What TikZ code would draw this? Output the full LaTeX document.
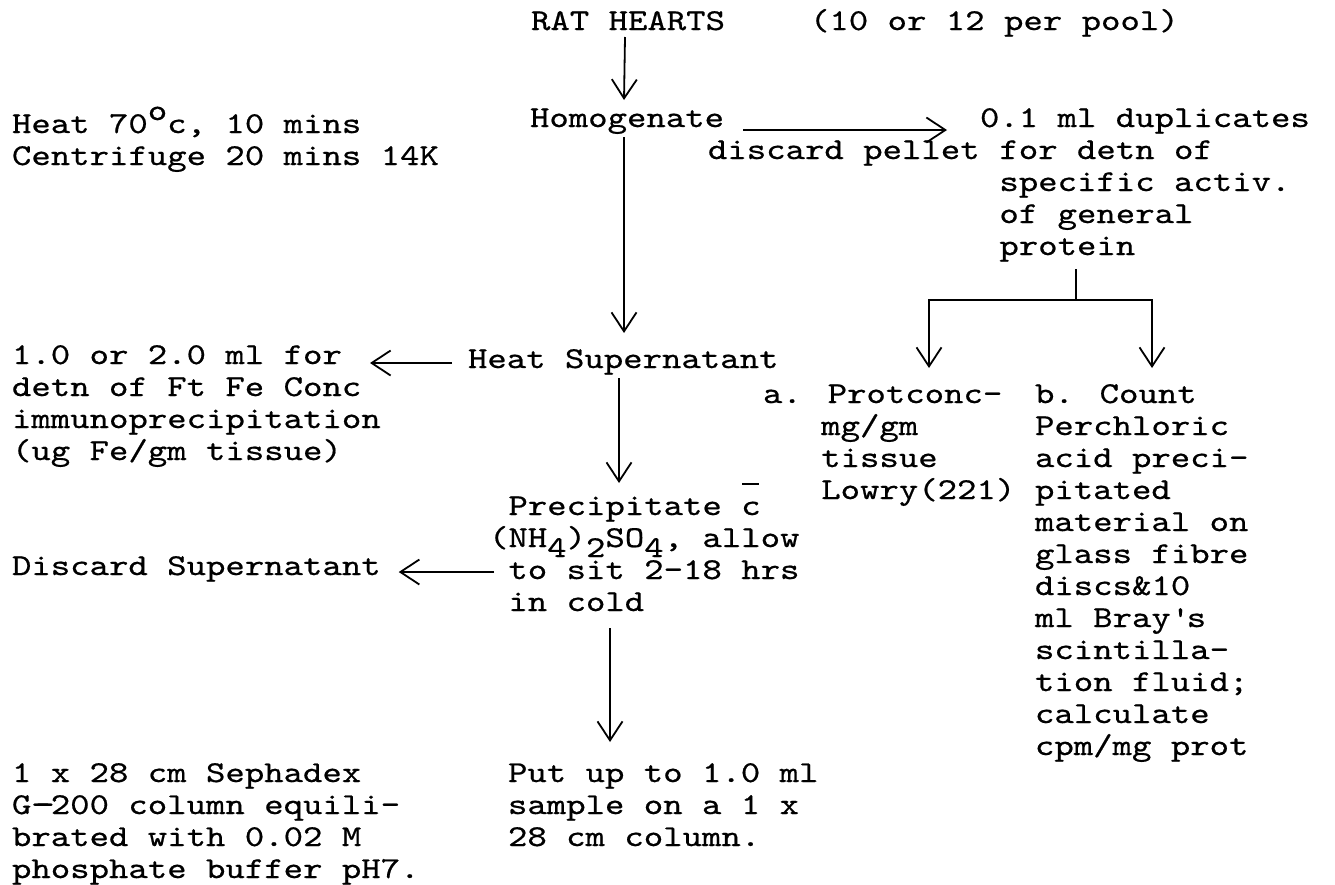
\documentclass[tikz,border=0pt]{standalone}
\usepackage{fontspec}
\newfontfamily\tw[FakeStretch=1.22,FakeBold=0.6]{lmmono10-regular.otf}
\usetikzlibrary{arrows.meta,calc}
\newcommand\lines[1]{\begin{tabular}[t]{@{}l@{}}#1\end{tabular}}
\newcommand\ix{\phantom{x}}
\newcommand\sub[1]{\raisebox{-10pt}[0pt][0pt]{#1}}
\newcommand\cbar{\rlap{\kern1pt\rule[30pt]{17pt}{1.8pt}}c}
\newcommand\dbl{\rlap{-}\kern0.12em-\kern-0.12em}
\begin{document}
\begin{tikzpicture}[x=1pt,y=-1pt,
  every node/.style={inner sep=0pt,outer sep=0pt,anchor=base west,
    font=\tw\fontsize{30.3}{32}\selectfont},
  ln/.style={line width=1.8pt},
  arr/.style={ln,-{Straight Barb[length=19pt,width=25pt]}}]
\fill[white] (0,0) rectangle (1335,884);
\useasboundingbox (0,0) rectangle (1335,884);
% nodes
\node (rat)     at (531,30)  {RAT HEARTS};
\node (pool)    at (810,30)  {(10 or 12 per pool)};
\node (heat)    at (12,133)  {\lines{Heat 70\raisebox{13pt}[0pt][0pt]{o}c, 10 mins\\Centrifuge 20 mins 14K}};
\node (homog)   at (530,127) {Homogenate};
\node (dup)     at (980,127) {\lines{0.1 ml duplicates\\\ix for detn of\\\ix specific activ.\\\ix of general\\\ix protein}};
\node (pellet)  at (708,159) {discard pellet};
\node (heatsup) at (468,368) {Heat Supernatant};
\node (dete)    at (12,364)  {\lines{1.0 or 2.0 ml for\\detn of Ft Fe Conc\\immunoprecipitation\\(ug Fe/gm tissue)}};
\node (prot)    at (763,403) {\lines{a. Protconc-\\\phantom{a.x}mg/gm\\\phantom{a.x}tissue\\\phantom{a.x}Lowry(221)}};
\node (count)   at (1035,403) {\lines{b. Count\\Perchloric\\acid preci-\\pitated\\material on\\glass fibre\\discs\&10\\ml Bray\textquotesingle s\\scintilla-\\tion fluid;\\calculate\\cpm/mg prot}};
\node (precip)  at (489,515) {\lines{\ix Precipitate \cbar\\(NH\sub4)\sub2SO\sub4, allow\\\ix to sit 2-18 hrs\\\ix in cold}};
\node (disc)    at (12,575)  {Discard Supernatant};
\node (seph)    at (12,782)  {\lines{1 x 28 cm Sephadex\\G\dbl 200 column equili-\\brated with 0.02 M\\phosphate buffer pH7.}};
\node (putup)   at (508,782) {\lines{Put up to 1.0 ml\\sample on a 1 x\\28 cm column.}};
% connectors
\draw[arr] ($(rat.base west)+(94,7)$) -- ($(homog.base west)+(94,-27)$);
\draw[arr] ($(homog.base west)+(94,10)$) -- ($(heatsup.base west)+(156,-35)$);
\draw[arr] ($(homog.base east)+(19,3)$) -- ($(dup.base west)+(-33,3)$);
\coordinate (fork) at (1076,300);
\draw[ln] ($(dup.base west)+(96,142)$) -- (fork);
\draw[arr] (fork) -| ($(prot.base west)+(166,-35)$);
\draw[arr] (fork) -| ($(count.base west)+(117,-35)$);
\draw[arr] ($(heatsup.base west)+(-16,-5)$) -- ($(dete.base west)+(358,-1)$);
\draw[arr] ($(heatsup.base west)+(151,10)$) -- ($(precip.base west)+(130,-32)$);
\draw[arr] ($(precip.base west)+(5,57)$) -- ($(disc.base east)+(18,-3)$);
\draw[arr] ($(precip.base west)+(121,113)$) -- ($(putup.base west)+(102,-40)$);
\end{tikzpicture}
\end{document}
